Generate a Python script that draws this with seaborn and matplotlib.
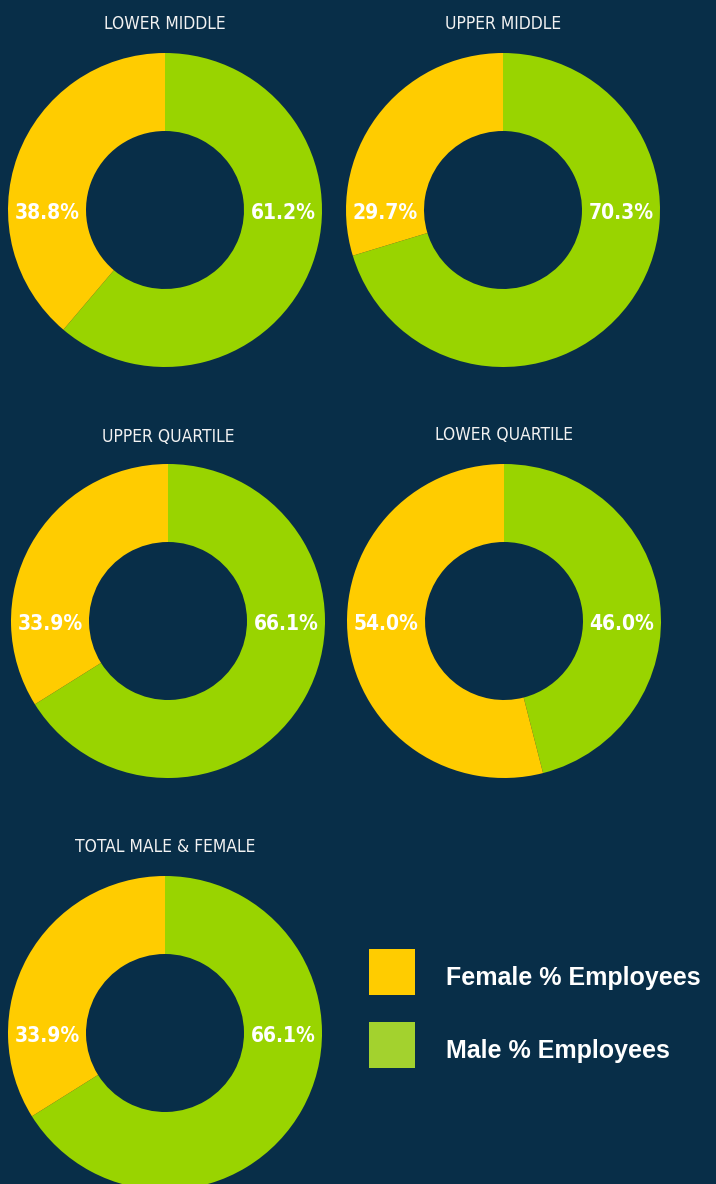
import matplotlib
matplotlib.use("Agg")
import matplotlib.pyplot as plt
from matplotlib import font_manager
from matplotlib.font_manager import FontProperties
from matplotlib.patches import Rectangle
import seaborn as sns

# data
titles = ["Lower middle", "upper middle", "upper Quartile", "Lower Quartile", "Total Male & Female"]
female_pct = [38.8, 29.7, 33.9, 54.0, 33.9]
male_pct = [61.2, 70.3, 66.1, 46.0, 66.1]
legend_labels = ["Female % Employees", "Male % Employees"]

BG = "#082e48"
YELLOW = "#ffcc00"
GREEN = "#99d400"
GREEN_KEY = "#a3d22e"

sns.set_theme(style="dark", rc={"figure.facecolor": BG, "axes.facecolor": BG})
plt.rcParams["font.family"] = ["Liberation Sans", "DejaVu Sans"]

# look for a narrow / condensed face, fall back to Liberation Sans
narrow_stretch = ("condensed", "semi-condensed", "extra-condensed", "ultra-condensed")
cands = [f for f in font_manager.fontManager.ttflist
         if f.stretch in narrow_stretch or "Narrow" in f.name or "Condensed" in f.name]
def weight_num(f):
    w = f.weight
    if isinstance(w, str):
        return 700 if "bold" in w.lower() else 400
    return w
bold_c = [f for f in cands if weight_num(f) >= 600 and f.style == "normal"]
reg_c = [f for f in cands if weight_num(f) < 600 and f.style == "normal"]

if bold_c:
    lab_fp = FontProperties(fname=bold_c[0].fname, size=15)
else:
    lab_fp = FontProperties(family="Liberation Sans", weight="bold", size=14.5)
if reg_c:
    tit_fp = FontProperties(fname=reg_c[0].fname, size=12.5)
else:
    tit_fp = FontProperties(family="Liberation Sans", size=11)

W, H = 716, 1184
fig = plt.figure(figsize=(W / 100, H / 100), dpi=100)
fig.patch.set_facecolor(BG)

# donut centres in pixels (x, y from top)
centres = [(165, 210), (503, 210), (168, 621), (504, 621), (165, 1033)]
title_y = [23, 23, 436, 434, 846]
R, r = 157, 79

for i, (cx, cy) in enumerate(centres):
    ax = fig.add_axes([(cx - R) / W, (H - cy - R) / H, 2 * R / W, 2 * R / H])
    ax.pie([male_pct[i], female_pct[i]], colors=[GREEN, YELLOW], startangle=90,
           counterclock=False, radius=1,
           wedgeprops=dict(width=(R - r) / R, linewidth=0))
    ax.set_xlim(-1, 1)
    ax.set_ylim(-1, 1)
    ax.axis("off")
    mid = (R + r) / 2 / R
    ax.text(-mid, -0.02, f"{female_pct[i]:.1f}%", color="white",
            fontproperties=lab_fp, ha="center", va="center")
    ax.text(mid, -0.02, f"{male_pct[i]:.1f}%", color="white",
            fontproperties=lab_fp, ha="center", va="center")
    fig.text(cx / W, 1 - (title_y[i] + 1) / H, titles[i].upper(), color="#f2f2f2",
             fontproperties=tit_fp, ha="center", va="center")

# legend
for j, (lab, col) in enumerate(zip(legend_labels, [YELLOW, GREEN_KEY])):
    top = 949 + j * 73
    fig.add_artist(Rectangle((369 / W, 1 - (top + 46) / H), 46 / W, 46 / H,
                             transform=fig.transFigure, facecolor=col, edgecolor="none"))
    fig.text(446 / W, 1 - (top + 29) / H, lab, color="white", fontsize=18,
             fontweight="bold", ha="left", va="center")

fig.savefig("out.png", dpi=100, facecolor=BG)
